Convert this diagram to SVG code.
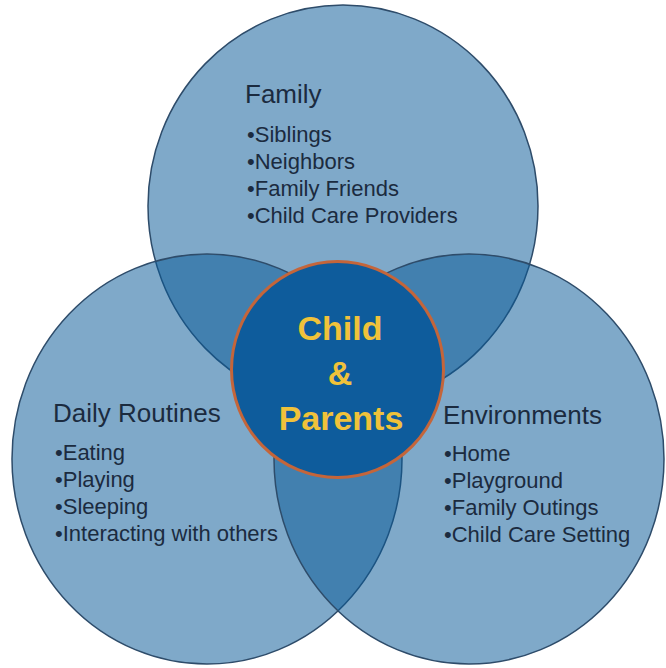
<svg xmlns="http://www.w3.org/2000/svg" width="666" height="668" viewBox="0 0 666 668">
  <style>
    .ring { fill: #0A5B98; fill-opacity: 0.52; stroke: #2E4C6A; stroke-width: 1.5; }
    .core { fill: #0E5C9C; stroke: #C4653A; stroke-width: 3; }
    .head { font-family: "Liberation Sans", Arial, sans-serif; font-size: 26px; fill: #1B2B3F; }
    .item { font-family: "Liberation Sans", Arial, sans-serif; font-size: 22px; fill: #1B2B3F; }
    .core-label { font-family: "Liberation Sans", Arial, sans-serif; font-size: 34px; font-weight: bold; fill: #F0C23A; text-anchor: middle; }
  </style>
  <rect width="666" height="668" fill="#FFFFFF"/>

  <!-- three overlapping spheres of influence -->
  <g id="family">
    <ellipse class="ring" cx="343" cy="206" rx="195" ry="201"/>
  </g>
  <g id="daily-routines">
    <ellipse class="ring" cx="207" cy="459" rx="195" ry="205"/>
  </g>
  <g id="environments">
    <ellipse class="ring" cx="469" cy="459" rx="195" ry="205"/>
  </g>

  <!-- labels of each sphere -->
  <g id="family-text">
    <text class="head" x="245" y="103">Family</text>
    <text class="item" x="247" y="142">•Siblings</text>
    <text class="item" x="247" y="169">•Neighbors</text>
    <text class="item" x="247" y="196">•Family Friends</text>
    <text class="item" x="247" y="223">•Child Care Providers</text>
  </g>
  <g id="daily-routines-text">
    <text class="head" x="53" y="422">Daily Routines</text>
    <text class="item" x="55" y="460">•Eating</text>
    <text class="item" x="55" y="487">•Playing</text>
    <text class="item" x="55" y="514">•Sleeping</text>
    <text class="item" x="55" y="541">•Interacting with others</text>
  </g>
  <g id="environments-text">
    <text class="head" x="443" y="424">Environments</text>
    <text class="item" x="444" y="461">•Home</text>
    <text class="item" x="444" y="488">•Playground</text>
    <text class="item" x="444" y="515">•Family Outings</text>
    <text class="item" x="444" y="542">•Child Care Setting</text>
  </g>

  <!-- centre -->
  <g id="child-parents">
    <ellipse class="core" cx="337.5" cy="369.5" rx="106" ry="108"/>
    <text class="core-label" x="340" y="340">Child</text>
    <text class="core-label" x="340" y="385">&amp;</text>
    <text class="core-label" x="341" y="430">Parents</text>
  </g>

  <g id="connectors"></g>
</svg>
